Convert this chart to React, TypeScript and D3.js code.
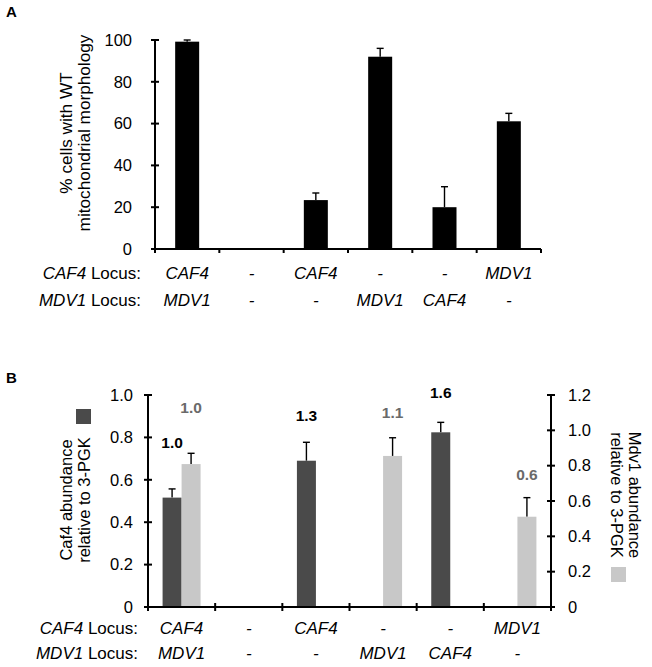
import React from 'react';
import * as d3 from 'd3';

// ---------- Panel A data ----------
const groups = ['g1', 'g2', 'g3', 'g4', 'g5', 'g6'];
const caf4Locus = ['CAF4', '-', 'CAF4', '-', '-', 'MDV1'];
const mdv1Locus = ['MDV1', '-', '-', 'MDV1', 'CAF4', '-'];
const wtMorphology: (number | null)[] = [99.2, null, 23.4, 92.0, 20.0, 61.1];
const wtMorphologyErr: (number | null)[] = [0.8, null, 3.4, 4.0, 9.8, 3.8];
const ticksA = [0, 20, 40, 60, 80, 100];

// ---------- Panel B data ----------
const caf4Abundance: (number | null)[] = [0.516, null, 0.69, null, 0.824, null];
const caf4Err: (number | null)[] = [0.041, null, 0.087, null, 0.047, null];
const caf4Labels: (string | null)[] = ['1.0', null, '1.3', null, '1.6', null];
const mdv1Abundance: (number | null)[] = [0.809, null, null, 0.855, null, 0.511];
const mdv1Err: (number | null)[] = [0.061, null, null, 0.103, null, 0.108];
const mdv1Labels: (string | null)[] = ['1.0', null, null, '1.1', null, '0.6'];
const ticksBLeft = [0, 0.2, 0.4, 0.6, 0.8, 1.0];
const ticksBRight = [0, 0.2, 0.4, 0.6, 0.8, 1.0, 1.2];

// label offsets (px above error bar top)
const caf4LabelOffset = [46, 0, 27, 0, 30, 0];
const mdv1LabelOffset = [46, 0, 0, 25, 0, 23];

const FONT = '"Liberation Sans", Arial, Helvetica, sans-serif';
const DARK = '#4a4a4a';
const LIGHT = '#c8c8c8';
const LABEL_GRAY = '#6a6a6a';
const TICK_FS = 16.5;
const ROW_FS = 17;

const fmtTick = (v: number) => (v === 0 ? '0' : d3.format('.1f')(v));

export default function App() {
  // Panel A scales
  const xA = d3.scaleBand<string>().domain(groups).range([155, 541]);
  const yA = d3.scaleLinear().domain([0, 100]).range([249, 40]);
  const barWA = 24;
  const capW = 7;

  // Panel B scales
  const xB = d3.scaleBand<string>().domain(groups).range([148, 551]);
  const yBL = d3.scaleLinear().domain([0, 1.0]).range([607, 395]);
  const yBR = d3.scaleLinear().domain([0, 1.2]).range([607, 395]);
  const barWB = 19;

  const bwA = xA.bandwidth();
  const bwB = xB.bandwidth();
  const bandEdgesA = groups.map((g) => xA(g)!).concat([541]);
  const bandEdgesB = groups.map((g) => xB(g)!).concat([551]);

  const errBar = (cx: number, yTop: number, yErr: number, key: string) => (
    <g key={key} stroke="#000" strokeWidth={1.4}>
      <line x1={cx} x2={cx} y1={yTop} y2={yErr} />
      <line x1={cx - capW / 2} x2={cx + capW / 2} y1={yErr} y2={yErr} />
    </g>
  );

  return (
    <svg
      width={652}
      height={667}
      style={{ position: 'absolute', left: 0, top: 0, background: '#fff' }}
      fontFamily={FONT}
    >
      <rect x={0} y={0} width={652} height={667} fill="#fff" />
      {/* ================= Panel A ================= */}
      <text x={6} y={17} fontSize={15} fontWeight="bold">A</text>

      {groups.map((g, i) => {
        const v = wtMorphology[i];
        if (v == null) return null;
        const cx = xA(g)! + bwA / 2;
        const e = wtMorphologyErr[i] ?? 0;
        return (
          <g key={'a' + g}>
            {errBar(cx, yA(v), yA(v + e), 'ea' + g)}
            <rect x={cx - barWA / 2} y={yA(v)} width={barWA} height={yA(0) - yA(v)} fill="#000" />
          </g>
        );
      })}

      <line x1={155} x2={155} y1={yA(100)} y2={yA(0)} stroke="#000" strokeWidth={2} />
      {ticksA.map((t) => (
        <g key={'ta' + t}>
          <line x1={151} x2={159} y1={yA(t)} y2={yA(t)} stroke="#000" strokeWidth={2} />
          <text x={132} y={yA(t)} dy="0.35em" fontSize={TICK_FS} textAnchor="end">{t}</text>
        </g>
      ))}
      <line x1={155} x2={541} y1={yA(0)} y2={yA(0)} stroke="#000" strokeWidth={2} />
      {bandEdgesA.map((x, i) => (
        <line key={'xa' + i} x1={x} x2={x} y1={yA(0)} y2={yA(0) + 4} stroke="#000" strokeWidth={2} />
      ))}

      <g transform={`translate(0,133) rotate(-90)`} fontSize={17.2} textAnchor="middle">
        <text x={0} y={72}>% cells with WT</text>
        <text x={0} y={89.5}>mitochondrial morphology</text>
      </g>

      <text x={141} y={279} fontSize={ROW_FS} textAnchor="end">
        <tspan fontStyle="italic">CAF4</tspan> Locus:
      </text>
      <text x={141} y={306} fontSize={ROW_FS} textAnchor="end">
        <tspan fontStyle="italic">MDV1</tspan> Locus:
      </text>
      {groups.map((g, i) => (
        <g key={'la' + g} fontSize={ROW_FS} fontStyle="italic" textAnchor="middle">
          <text x={xA(g)! + bwA / 2} y={279}>{caf4Locus[i]}</text>
          <text x={xA(g)! + bwA / 2} y={306}>{mdv1Locus[i]}</text>
        </g>
      ))}

      {/* ================= Panel B ================= */}
      <text x={6} y={383} fontSize={15} fontWeight="bold">B</text>

      {groups.map((g, i) => {
        const cx = xB(g)! + bwB / 2;
        const out: any[] = [];
        const v1 = caf4Abundance[i];
        if (v1 != null) {
          const e = caf4Err[i] ?? 0;
          const bx = cx - barWB;
          const c = bx + barWB / 2;
          out.push(errBar(c, yBL(v1), yBL(v1 + e), 'ebd' + g));
          out.push(<rect key={'bd' + g} x={bx} y={yBL(v1)} width={barWB} height={yBL(0) - yBL(v1)} fill={DARK} />);
          if (caf4Labels[i])
            out.push(
              <text key={'ld' + g} x={c} y={yBL(v1 + e) - caf4LabelOffset[i]} dy="0.35em" fontSize={15.5}
                fontWeight="bold" textAnchor="middle" fill="#000">{caf4Labels[i]}</text>
            );
        }
        const v2 = mdv1Abundance[i];
        if (v2 != null) {
          const e = mdv1Err[i] ?? 0;
          const bx = cx;
          const c = bx + barWB / 2;
          out.push(errBar(c, yBR(v2), yBR(v2 + e), 'ebl' + g));
          out.push(<rect key={'bl' + g} x={bx} y={yBR(v2)} width={barWB} height={yBR(0) - yBR(v2)} fill={LIGHT} />);
          if (mdv1Labels[i])
            out.push(
              <text key={'ll' + g} x={c} y={yBR(v2 + e) - mdv1LabelOffset[i]} dy="0.35em" fontSize={15.5}
                fontWeight="bold" textAnchor="middle" fill={LABEL_GRAY}>{mdv1Labels[i]}</text>
            );
        }
        return <g key={'b' + g}>{out}</g>;
      })}

      <line x1={148} x2={148} y1={yBL(1)} y2={yBL(0)} stroke="#000" strokeWidth={2} />
      {ticksBLeft.map((t) => (
        <g key={'tbl' + t}>
          <line x1={144} x2={152} y1={yBL(t)} y2={yBL(t)} stroke="#000" strokeWidth={2} />
          <text x={133} y={yBL(t)} dy="0.35em" fontSize={TICK_FS} textAnchor="end">{fmtTick(t)}</text>
        </g>
      ))}
      <line x1={551} x2={551} y1={yBR(1.2)} y2={yBR(0)} stroke="#000" strokeWidth={2} />
      {ticksBRight.map((t) => (
        <g key={'tbr' + t}>
          <line x1={547} x2={555} y1={yBR(t)} y2={yBR(t)} stroke="#000" strokeWidth={2} />
          <text x={568} y={yBR(t)} dy="0.35em" fontSize={TICK_FS} textAnchor="start">{fmtTick(t)}</text>
        </g>
      ))}
      <line x1={148} x2={551} y1={yBL(0)} y2={yBL(0)} stroke="#000" strokeWidth={2} />
      {bandEdgesB.map((x, i) => (
        <line key={'xb' + i} x1={x} x2={x} y1={yBL(0) - 4} y2={yBL(0) + 4} stroke="#000" strokeWidth={2} />
      ))}

      <g transform={`translate(0,500) rotate(-90)`} fontSize={16.5} textAnchor="middle">
        <text x={0} y={72}>Caf4 abundance</text>
        <text x={0} y={90}>relative to 3-PGK</text>
      </g>
      <rect x={76} y={409} width={15} height={15} fill={DARK} />

      <g transform={`translate(0,495) rotate(90)`} fontSize={16.5} textAnchor="middle">
        <text x={0} y={-629}>Mdv1 abundance</text>
        <text x={0} y={-611}>relative to 3-PGK</text>
      </g>
      <rect x={611} y={567} width={15} height={15} fill={LIGHT} />

      <text x={138} y={634} fontSize={ROW_FS} textAnchor="end">
        <tspan fontStyle="italic">CAF4</tspan> Locus:
      </text>
      <text x={138} y={659} fontSize={ROW_FS} textAnchor="end">
        <tspan fontStyle="italic">MDV1</tspan> Locus:
      </text>
      {groups.map((g, i) => (
        <g key={'lb' + g} fontSize={ROW_FS} fontStyle="italic" textAnchor="middle">
          <text x={xB(g)! + bwB / 2} y={634}>{caf4Locus[i]}</text>
          <text x={xB(g)! + bwB / 2} y={659}>{mdv1Locus[i]}</text>
        </g>
      ))}
    </svg>
  );
}
